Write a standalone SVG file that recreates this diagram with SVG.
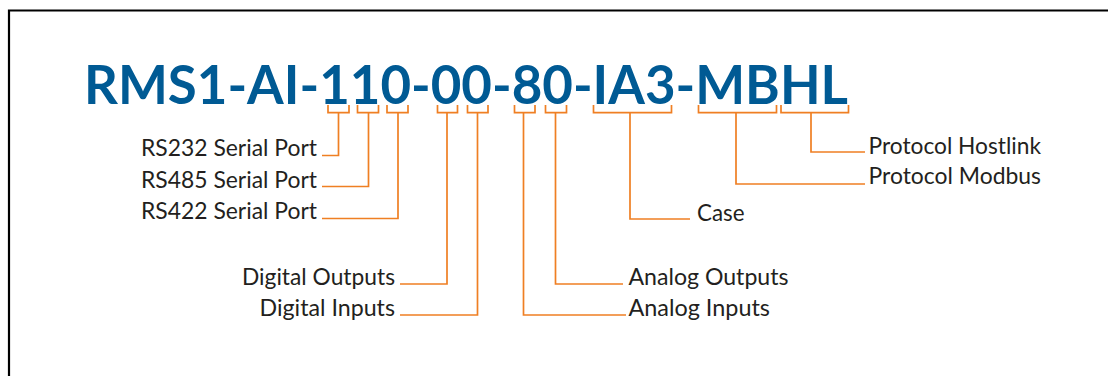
<svg xmlns="http://www.w3.org/2000/svg" width="1108" height="376" viewBox="0 0 1108 376">
  <style>
    .frame { fill: none; stroke: #000; stroke-width: 2.2; }
    .code { font-family: Lato, "Open Sans", "Liberation Sans", sans-serif; font-weight: 700; font-size: 53px; fill: #005a94; }
    .label { font-family: Lato, "Open Sans", "Liberation Sans", sans-serif; font-size: 23px; fill: #231f20; }
    .lead { fill: none; stroke: #ef7f23; stroke-width: 1.7; stroke-linejoin: miter; }
  </style>
  <rect width="1108" height="376" fill="#fff"/>
  <path class="frame" d="M9 376 V10.5 H1108"/>

  <g id="part-number">
    <text class="code" x="84" y="104" textLength="764" lengthAdjust="spacingAndGlyphs">RMS1-AI-110-00-80-IA3-MBHL</text>
  </g>

  <!-- brackets under each code field and their leader lines -->
  <g id="connectors" class="lead">
    <path d="M328 105 V112.7 H349 V105 M338.5 112.7 V155.5 H322"/>
    <path d="M357.5 105 V112.7 H378.5 V105 M368.5 112.7 V186.5 H322"/>
    <path d="M387 105 V112.7 H408 V105 M398 112.7 V218.5 H322"/>
    <path d="M437.5 105 V112.7 H457.5 V105 M447 112.7 V284 H400"/>
    <path d="M467.5 105 V112.7 H488 V105 M477.5 112.7 V315 H400"/>
    <path d="M514.5 105 V112.7 H535 V105 M523.5 112.7 V315 H626"/>
    <path d="M545.5 105 V112.7 H566.5 V105 M555.5 112.7 V284 H623"/>
    <path d="M593.5 105 V112.7 H671.5 V105 M630 112.7 V219 H690"/>
    <path d="M698.5 105 V112.7 H776.5 V105 M736 112.7 V184 H865"/>
    <path d="M781 105 V112.7 H848.5 V105 M811 112.7 V152 H865"/>
  </g>

  <g id="rs232"><text class="label" x="141" y="156" textLength="176" lengthAdjust="spacingAndGlyphs">RS232 Serial Port</text></g>
  <g id="rs485"><text class="label" x="141" y="187.5" textLength="176" lengthAdjust="spacingAndGlyphs">RS485 Serial Port</text></g>
  <g id="rs422"><text class="label" x="141" y="219" textLength="176" lengthAdjust="spacingAndGlyphs">RS422 Serial Port</text></g>
  <g id="digital-outputs"><text class="label" x="242" y="284.5" textLength="153" lengthAdjust="spacingAndGlyphs">Digital Outputs</text></g>
  <g id="digital-inputs"><text class="label" x="259.5" y="316" textLength="135.5" lengthAdjust="spacingAndGlyphs">Digital Inputs</text></g>
  <g id="analog-outputs"><text class="label" x="628.5" y="284.5" textLength="160" lengthAdjust="spacingAndGlyphs">Analog Outputs</text></g>
  <g id="analog-inputs"><text class="label" x="628.5" y="315.5" textLength="141.5" lengthAdjust="spacingAndGlyphs">Analog Inputs</text></g>
  <g id="case"><text class="label" x="697" y="221" textLength="47.5" lengthAdjust="spacingAndGlyphs">Case</text></g>
  <g id="protocol-hostlink"><text class="label" x="868.5" y="153.5" textLength="172.5" lengthAdjust="spacingAndGlyphs">Protocol Hostlink</text></g>
  <g id="protocol-modbus"><text class="label" x="868.5" y="184" textLength="172.5" lengthAdjust="spacingAndGlyphs">Protocol Modbus</text></g>
</svg>
